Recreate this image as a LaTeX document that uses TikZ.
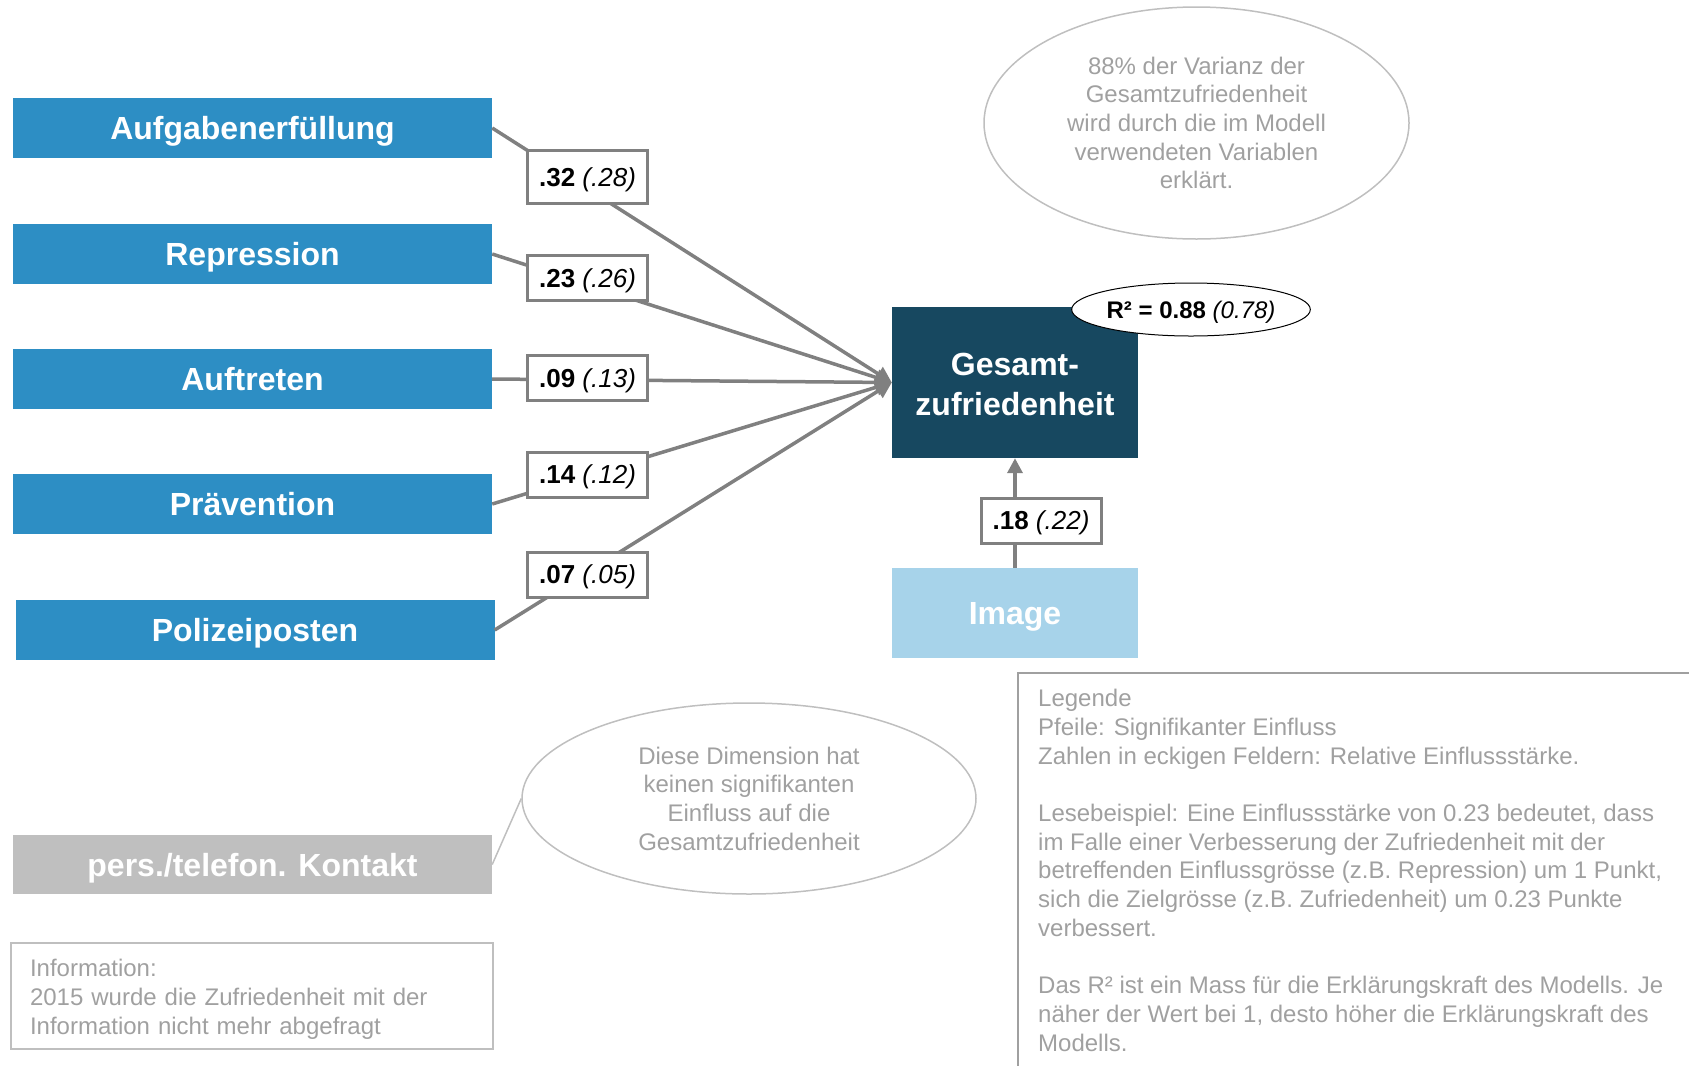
\documentclass[tikz,border=0pt]{standalone}
\usepackage{fontspec}
\setmainfont{Liberation Sans}
\usetikzlibrary{shapes.geometric,arrows.meta}
\definecolor{srcblue}{RGB}{45,142,196}
\definecolor{darkblue}{RGB}{23,72,96}
\definecolor{lightblue}{RGB}{167,211,234}
\definecolor{boxgray}{RGB}{191,191,191}
\definecolor{linegray}{RGB}{128,128,128}
\definecolor{notegray}{RGB}{160,160,160}
\definecolor{bubblegray}{RGB}{191,191,191}
\begin{document}
\begin{tikzpicture}[x=1pt,y=-1pt,
  src/.style={fill=srcblue,text=white,font=\fontsize{32}{40}\selectfont\bfseries,minimum width=479pt,minimum height=60pt,inner sep=0pt,text height=23pt,text depth=0pt},
  wt/.style={draw=linegray,line width=3pt,fill=white,minimum width=120pt,minimum height=45pt,inner sep=0pt,font=\fontsize{26}{30}\selectfont,text height=18.7pt,text depth=0pt},
  conn/.style={draw=linegray,line width=3.5pt,-{Triangle[length=16pt,width=16pt]}},
  note/.style={text=notegray,font=\fontsize{24}{28.7}\selectfont},
  bubble/.style={ellipse,draw=bubblegray,line width=1.5pt,inner sep=0pt,align=center,note}
]
\useasboundingbox (0,0) rectangle (1689,1066);

% source boxes
\node[src] (a1) at (252.5,128) {Aufgabenerfüllung};
\node[src] (a2) at (252.5,254) {Repression};
\node[src] (a3) at (252.5,379) {Auftreten};
\node[src] (a4) at (252.5,504) {Prävention};
\node[src] (a5) at (255,630) {Polizeiposten};
\node[src,fill=boxgray,minimum height=59pt] (pk) at (252.5,864.5) {pers./telefon. Kontakt};

% target
\node[fill=darkblue,minimum width=246pt,minimum height=151pt,inner sep=0pt] (g) at (1015,382.5) {};
\node[text=white,font=\fontsize{32}{40}\selectfont\bfseries,inner sep=0pt,align=center] (gtext) at (1015,384.7) {Gesamt-\\zufriedenheit};
\node[src,fill=lightblue,minimum width=246pt,minimum height=90pt] (img) at (1015,613) {Image};

% connectors
\draw[conn] (a1.east) -- (g.west);
\draw[conn] (a2.east) -- (g.west);
\draw[conn] (a3.east) -- (g.west);
\draw[conn] (a4.east) -- (g.west);
\draw[conn] (a5.east) -- (g.west);
\draw[draw=linegray,line width=3.5pt,-{Triangle[length=15pt,width=15pt]}] (img.north) -- (g.south);

% weights
\node[wt,minimum height=53pt] (l1) at (587.5,177) {\textbf{.32} \textit{(.28)}};
\node[wt] (l2) at (587.5,278) {\textbf{.23} \textit{(.26)}};
\node[wt] (l3) at (587.5,378) {\textbf{.09} \textit{(.13)}};
\node[wt] (l4) at (587.5,474.5) {\textbf{.14} \textit{(.12)}};
\node[wt] (l5) at (587.5,574.5) {\textbf{.07} \textit{(.05)}};
\node[wt] (l6) at (1041,520.5) {\textbf{.18} \textit{(.22)}};

% R2
\node[ellipse,draw=black,line width=1pt,fill=white,minimum width=234pt,minimum height=53pt,inner sep=0pt,font=\fontsize{24}{28}\selectfont,text height=17.3pt,text depth=0pt] (r2) at (1191,309.5) {\textbf{R² = 0.88} \textit{(0.78)}};

% bubbles
\node[bubble,minimum width=425pt,minimum height=232pt] (e1) at (1196.5,123) {88\% der Varianz der\\Gesamtzufriedenheit\\wird durch die im Modell\\verwendeten Variablen\\erklärt.};
\node[bubble,minimum width=454pt,minimum height=191pt] (e2) at (749,798.5) {Diese Dimension hat\\keinen signifikanten\\Einfluss auf die\\Gesamtzufriedenheit};
\draw[draw=bubblegray,line width=1.5pt] (e2.west) -- (pk.east);

% info box
\node[draw=bubblegray,line width=1.5pt,minimum width=482pt,minimum height=106pt,inner sep=0pt] (info) at (252,996) {};
\node[note,text width=444pt,inner sep=0pt,align=left] (infotext) at (252,999.2) {Information:\\2015 wurde die Zufriedenheit mit der\\Information nicht mehr abgefragt};

% legend
\coordinate (lgtr) at (1689,673);
\coordinate (lgtl) at (1018,673);
\coordinate (lgbl) at (1018,1066);
\draw[draw=notegray,line width=1.5pt] (lgtr) -- (lgtl) -- (lgbl);
\node[note,anchor=north west,inner sep=0pt,align=left] (legend) at (1038,689) {Legende\\Pfeile: Signifikanter Einfluss\\Zahlen in eckigen Feldern: Relative Einflussstärke.\\[28.7pt]Lesebeispiel: Eine Einflussstärke von 0.23 bedeutet, dass\\im Falle einer Verbesserung der Zufriedenheit mit der\\betreffenden Einflussgrösse (z.B. Repression) um 1 Punkt,\\sich die Zielgrösse (z.B. Zufriedenheit) um 0.23 Punkte\\verbessert.\\[28.7pt]Das R² ist ein Mass für die Erklärungskraft des Modells. Je\\näher der Wert bei 1, desto höher die Erklärungskraft des\\Modells.};
\end{tikzpicture}
\end{document}
